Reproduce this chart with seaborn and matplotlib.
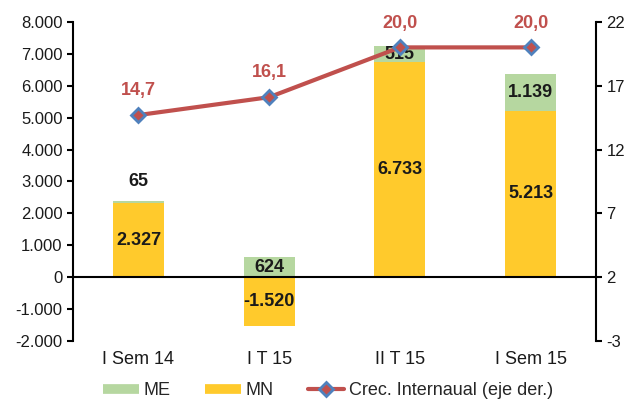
import numpy as np
import pandas as pd
import matplotlib
matplotlib.use("Agg")
import matplotlib.pyplot as plt
from matplotlib.lines import Line2D
from matplotlib.ticker import FuncFormatter
import seaborn as sns

categories = ["I Sem 14", "I T 15", "II T 15", "I Sem 15"]
mn = [2327, -1520, 6733, 5213]
me = [65, 624, 515, 1139]
growth = [14.7, 16.1, 20.0, 20.0]

sns.set_theme(style="white")
plt.rcParams["font.family"] = ["Liberation Sans", "DejaVu Sans"]
plt.rcParams["axes.unicode_minus"] = False

GREEN = "#B6D7A0"
YELLOW = "#FFCA2C"
RED = "#C0504D"
BLUE = "#4F81BD"
TXT = "#1a1a1a"

df = pd.DataFrame({"cat": categories, "MN": mn, "ME": me})
df["bottom"] = df["MN"].clip(lower=0)

fig = plt.figure(figsize=(6.36, 4.05), dpi=100)
ax = fig.add_axes([0.115, 0.158, 0.822, 0.788])

sns.barplot(data=df, x="cat", y="MN", order=categories, color=YELLOW,
            saturation=1, width=0.39, ax=ax, linewidth=0)
sns.barplot(data=df, x="cat", y="ME", order=categories, color=GREEN,
            saturation=1, width=0.39, ax=ax, linewidth=0,
            bottom=df["bottom"].values)

ax.set_ylim(-2000, 8000)
ax.set_yticks(np.arange(-2000, 8001, 1000))
ax.yaxis.set_major_formatter(FuncFormatter(lambda v, p: f"{int(v):,}".replace(",", ".")))
ax.set_xlim(-0.5, 3.5)
ax.axhline(0, color="black", lw=1.5, zorder=3)
ax.set_xlabel("")
ax.set_ylabel("")
for s in ["top", "bottom", "right"]:
    ax.spines[s].set_visible(False)
ax.spines["left"].set_color("black")
ax.spines["left"].set_linewidth(1.5)
ax.tick_params(axis="y", direction="out", length=4, width=1.5, color="black",
               labelsize=12, labelcolor=TXT, left=True)
ax.tick_params(axis="x", length=0, labelsize=13, labelcolor=TXT, pad=7)

def fmt(v):
    return f"{v:,}".replace(",", ".")

for i in range(4):
    m = mn[i]
    e = me[i]
    b = max(m, 0)
    ax.text(i, m / 2, fmt(m), ha="center", va="center", fontsize=13,
            fontweight="bold", color=TXT, zorder=5)
    if e < 200:
        ax.text(i, b + e + 600, fmt(e), ha="center", va="center", fontsize=13,
                fontweight="bold", color=TXT, zorder=5)
    else:
        ax.text(i, b + e / 2, fmt(e), ha="center", va="center", fontsize=13,
                fontweight="bold", color=TXT, zorder=5)

ax2 = ax.twinx()
sns.lineplot(x=np.arange(len(categories)), y=growth, ax=ax2, color=RED, lw=3,
             marker="D", markersize=7, markerfacecolor=RED, markeredgecolor=BLUE,
             markeredgewidth=2, zorder=6)
ax2.set_ylim(-3, 22)
ax2.set_yticks([-3, 2, 7, 12, 17, 22])
for s in ["top", "bottom", "left"]:
    ax2.spines[s].set_visible(False)
ax2.spines["right"].set_color("black")
ax2.spines["right"].set_linewidth(1.5)
ax2.tick_params(axis="y", direction="out", length=4, width=1.5, color="black",
                labelsize=12, labelcolor=TXT, right=True)
ax2.set_ylabel("")
ax2.grid(False)
ax.grid(False)

for i, g in enumerate(growth):
    ax2.text(i, g + 1.9, f"{g:.1f}".replace(".", ","), ha="center", va="center",
             fontsize=13, fontweight="bold", color=RED, zorder=7)

handles = [
    Line2D([], [], color=GREEN, lw=7, solid_capstyle="butt"),
    Line2D([], [], color=YELLOW, lw=7, solid_capstyle="butt"),
    Line2D([], [], color=RED, lw=3, marker="D", markersize=7,
           markerfacecolor=RED, markeredgecolor=BLUE, markeredgewidth=2),
]
fig.legend(handles, ["ME", "MN", "Crec. Internaual (eje der.)"], loc="center",
           bbox_to_anchor=(0.516, 0.036), ncol=3, frameon=False, fontsize=13,
           handlelength=2.0, columnspacing=1.9, handletextpad=0.25)

fig.savefig("out.png", dpi=100, facecolor="white")
